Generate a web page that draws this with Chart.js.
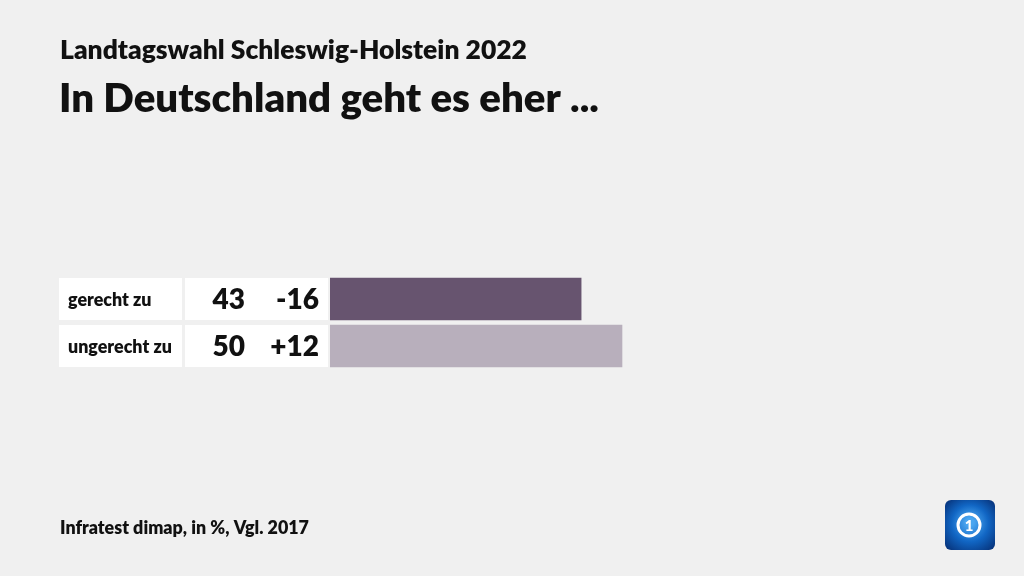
<!DOCTYPE html>
<html><head><meta charset="utf-8">
<script src="https://cdn.jsdelivr.net/npm/chart.js@4/dist/chart.umd.min.js"></script>
<style>html,body{margin:0;padding:0;background:#f0f0f0;}canvas{display:block;}</style>
</head><body>
<canvas id="c" width="1024" height="576"></canvas>
<script>
const categories = ["gerecht zu", "ungerecht zu"];
const values = [43, 50];
const changes = ["-16", "+12"];
const barColors = ["#67546f", "#b8afbc"];
const supTitle = "Landtagswahl Schleswig-Holstein 2022";
const mainTitle = "In Deutschland geht es eher ...";
const footer = "Infratest dimap, in %, Vgl. 2017";

const FONT = "Lato, 'Open Sans', sans-serif";
const W = "800";

function fitSize(ctx, text, weight, size, targetW) {
  ctx.font = weight + " " + size + "px " + FONT;
  const w = ctx.measureText(text).width;
  return size * targetW / w;
}
function fitFont(ctx, text, weight, size, targetW) {
  const s = fitSize(ctx, text, weight, size, targetW);
  ctx.font = weight + " " + s.toFixed(2) + "px " + FONT;
}

const decor = {
  id: "decor",
  beforeDatasetsDraw(chart) {
    const ctx = chart.ctx;
    const y = chart.scales.y;
    ctx.save();
    const labelSize = fitSize(ctx, "ungerecht zu", W, 15, 104);
    categories.forEach((c, i) => {
      const cy = y.getPixelForValue(i);
      ctx.fillStyle = "#ffffff";
      ctx.fillRect(59, cy - 21, 123, 42);
      ctx.fillRect(185, cy - 21, 143, 42);
      ctx.fillStyle = "#111";
      ctx.textBaseline = "middle";
      ctx.textAlign = "left";
      ctx.font = W + " " + labelSize.toFixed(2) + "px " + FONT;
      ctx.fillText(c, 68, cy + 1);
      ctx.font = W + " 28px " + FONT;
      ctx.textAlign = "right";
      ctx.fillText(String(values[i]), 245, cy + 1);
      ctx.fillText(changes[i], 319, cy + 1);
    });
    ctx.restore();
  },
  afterDraw(chart) {
    const ctx = chart.ctx;
    ctx.save();
    ctx.fillStyle = "#111";
    ctx.textAlign = "left";
    ctx.textBaseline = "alphabetic";
    fitFont(ctx, supTitle, W, 22, 467);
    ctx.fillText(supTitle, 60, 59);
    fitFont(ctx, mainTitle, W, 40, 540);
    ctx.fillText(mainTitle, 59, 112);
    fitFont(ctx, footer, W, 16, 249);
    ctx.fillText(footer, 60, 534);
    // logo
    const lx = 945, ly = 500, ls = 50, r = 6;
    const g = ctx.createRadialGradient(lx + 25, ly + 22, 4, lx + 25, ly + 25, 36);
    g.addColorStop(0, "#4aa6f0");
    g.addColorStop(0.45, "#1166c4");
    g.addColorStop(1, "#052a6e");
    ctx.fillStyle = g;
    ctx.beginPath();
    ctx.moveTo(lx + r, ly);
    ctx.arcTo(lx + ls, ly, lx + ls, ly + ls, r);
    ctx.arcTo(lx + ls, ly + ls, lx, ly + ls, r);
    ctx.arcTo(lx, ly + ls, lx, ly, r);
    ctx.arcTo(lx, ly, lx + ls, ly, r);
    ctx.closePath();
    ctx.fill();
    ctx.strokeStyle = "#ffffff";
    ctx.lineWidth = 3;
    ctx.beginPath();
    ctx.arc(lx + 24, ly + 25, 11, 0, Math.PI * 2);
    ctx.stroke();
    ctx.fillStyle = "#ffffff";
    ctx.font = "900 15px " + FONT;
    ctx.textAlign = "center";
    ctx.textBaseline = "middle";
    ctx.fillText("1", lx + 24, ly + 26);
    ctx.restore();
  }
};

new Chart(document.getElementById("c"), {
  type: "bar",
  data: {
    labels: categories,
    datasets: [{
      data: values,
      backgroundColor: barColors,
      borderWidth: 0,
      barThickness: 42
    }]
  },
  options: {
    indexAxis: "y",
    responsive: false,
    animation: false,
    layout: { padding: { left: 330, right: 110, top: 275.5, bottom: 206.5 } },
    scales: {
      x: { display: false, min: 0, max: 100 },
      y: { display: false, offset: true }
    },
    plugins: { legend: { display: false }, tooltip: { enabled: false } }
  },
  plugins: [decor]
});
</script>
</body></html>
